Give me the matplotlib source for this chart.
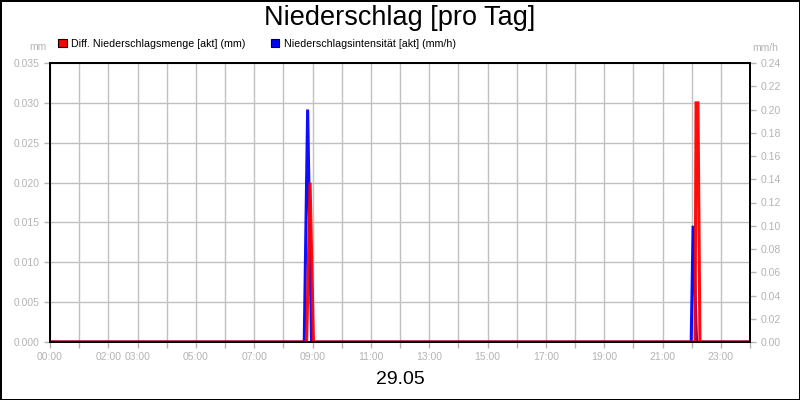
import numpy as np
import matplotlib
matplotlib.use("Agg")
import matplotlib.pyplot as plt
from matplotlib.patches import Patch

plt.rcParams['font.family'] = ['Liberation Sans', 'DejaVu Sans']

# -----------------------------
# Data (time in minutes since 00:00)
# -----------------------------
menge_t = [0, 528, 535, 542, 1327, 1329, 1333, 1337, 1440]
menge_mm = [0.0, 0.0, 0.020, 0.0, 0.0, 0.030, 0.030, 0.0, 0.0]

intens_t = [0, 523, 530, 538, 1319, 1323, 1330, 1440]
intens_mmh = [0.0, 0.0, 0.20, 0.0, 0.0, 0.10, 0.0, 0.0]

hour_labels = ["00:00", "", "02:00", "03:00", "", "05:00", "", "07:00", "", "09:00",
               "", "11:00", "", "13:00", "", "15:00", "", "17:00", "", "19:00",
               "", "21:00", "", "23:00", ""]

GREY = "#b4b4b4"
MM_MAX = 0.035

fig = plt.figure(figsize=(8, 4), dpi=100)
fig.patch.set_edgecolor("black")
fig.patch.set_linewidth(2)

rect = [50 / 800, 1 - 342 / 400, 700 / 800, 279 / 400]
ax = fig.add_axes(rect)           # grid + left ticks
ax2 = ax.twinx()                  # intensity (right axis)
ax3 = ax.twinx()                  # amount line drawn on top

# left axis / grid
ax.set_ylim(0, MM_MAX)
ax.set_yticks(np.arange(0, MM_MAX + 1e-6, 0.005))
ax.set_yticklabels([f"{v:.3f}" for v in np.arange(0, MM_MAX + 1e-6, 0.005)])
ax.set_xlim(0, 1440)
ax.set_xticks(np.arange(0, 1441, 60))
ax.set_xticklabels(hour_labels)
ax.grid(True, color="#c0c0c0", lw=1)

# right axis: intensity
ax2.plot(intens_t, intens_mmh, color="#0000ff", lw=2.2, alpha=0.95, solid_joinstyle="miter")
ax2.set_ylim(0, 0.24)
ax2.set_yticks(np.arange(0, 0.2401, 0.02))
ax2.set_yticklabels([f"{v:.2f}" for v in np.arange(0, 0.2401, 0.02)])

# amount, same scale as left axis
ax3.plot(menge_t, menge_mm, color="#ff0000", lw=2.2, alpha=0.95, solid_joinstyle="miter")
ax3.set_ylim(0, MM_MAX)
ax3.set_yticks([])
ax3.patch.set_visible(False)

for a in (ax, ax2, ax3):
    a.tick_params(colors=GREY, labelcolor=GREY, labelsize=7.5, length=4, width=1)
    for s in a.spines.values():
        s.set_color("black")
        s.set_linewidth(1.2)

fig.text(38 / 800, 1 - 47 / 400, "mm", color=GREY, fontsize=7.5, ha="center", va="center")
fig.text(765 / 800, 1 - 48 / 400, "mm/h", color=GREY, fontsize=7.5, ha="center", va="center")

fig.text(0.5, 1 - 18 / 400, "Niederschlag [pro Tag]", fontsize=19.5, ha="center", va="center")
fig.text(0.5, 1 - 379 / 400, "29.05", fontsize=14, ha="center", va="center")

handles = [Patch(facecolor="#ff0000", edgecolor="black", lw=0.8),
           Patch(facecolor="#0000ff", edgecolor="black", lw=0.8)]
fig.legend(handles, ["Diff. Niederschlagsmenge [akt] (mm)", "Niederschlagsintensität [akt] (mm/h)"],
           loc="center left", bbox_to_anchor=(58 / 800, 1 - 44 / 400), ncol=2, frameon=False,
           fontsize=7.7, handlelength=0.8, handleheight=0.8, handletextpad=0.4,
           columnspacing=2.4, borderpad=0, borderaxespad=0)

fig.savefig("out.png", dpi=100)
